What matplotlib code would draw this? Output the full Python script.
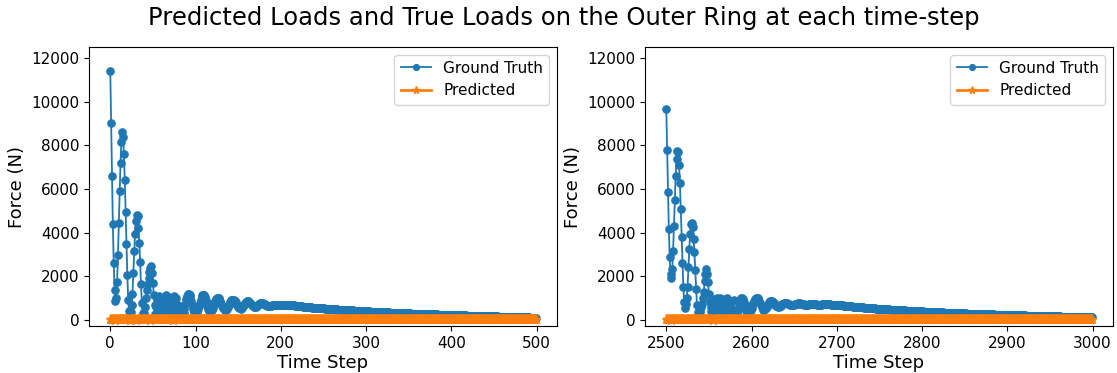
import numpy as np
import matplotlib
matplotlib.use("Agg")
import matplotlib.pyplot as plt

# ---------------- data (one value per time step) ----------------
START_LEFT = 0
START_RIGHT = 2500

TRUE_LEFT = [
    11420, 9040, 6600, 4400, 2620, 1390, 870, 1020, 1750, 2980,
    4440, 5900, 7200, 8150, 8600, 8400, 7600, 6400, 4960, 3480,
    2060, 920, 400, 150, 350, 700, 1200, 2150, 3170, 3950,
    4550, 4800, 4750, 4200, 3540, 2670, 1650, 780, 300, 120,
    300, 600, 1000, 1370, 1650, 1920, 2200, 2380, 2470, 2150,
    1700, 1150, 700, 250, 600, 1000, 700, 1100, 400, 900,
    150, 700, 300, 1000, 600, 1150, 800, 1100, 400, 900,
    100, 600, 200, 900, 500, 1100, 700, 1000, 300, 700,
    50, 400, 150, 250, 150, 200, 330, 520, 740, 940,
    1090, 1180, 1200, 1150, 1030, 860, 670, 490, 360, 300,
    290, 310, 380, 490, 620, 780, 930, 1060, 1140, 1160,
    1120, 1040, 920, 780, 640, 510, 420, 370, 385, 440,
    530, 640, 760, 870, 950, 1000, 1010, 990, 930, 850,
    750, 650, 560, 490, 450, 440, 455, 510, 580, 670,
    760, 840, 900, 930, 930, 910, 870, 810, 740, 670,
    610, 560, 530, 520, 530, 570, 630, 700, 770, 820,
    850, 860, 850, 820, 780, 730, 680, 640, 615, 602,
    600, 610, 635, 670, 710, 745, 770, 782, 780, 770,
    750, 725, 700, 675, 655, 640, 632, 630, 635, 645,
    660, 675, 690, 700, 705, 703, 698, 690, 680, 670,
    665, 664, 664, 665, 666, 667, 668, 669, 670, 670,
    671, 671, 670, 669, 667, 664, 660, 656, 652, 647,
    642, 637, 632, 627, 622, 617, 612, 607, 603, 599,
    595, 591, 587, 583, 579, 575, 571, 567, 563, 559,
    556, 553, 550, 547, 544, 541, 538, 535, 532, 529,
    526, 523, 520, 517, 514, 511, 508, 505, 502, 499,
    496, 493, 490, 487, 484, 481, 478, 475, 473, 471,
    468, 466, 463, 461, 458, 456, 453, 451, 448, 446,
    443, 441, 438, 436, 433, 431, 428, 426, 423, 421,
    418, 416, 413, 411, 408, 406, 403, 401, 398, 396,
    393, 391, 389, 387, 385, 383, 381, 379, 377, 375,
    373, 371, 369, 367, 365, 363, 361, 359, 357, 355,
    353, 351, 349, 347, 345, 343, 341, 339, 337, 335,
    333, 331, 329, 327, 325, 324, 322, 320, 318, 316,
    314, 313, 311, 309, 307, 306, 304, 302, 300, 299,
    297, 296, 294, 293, 291, 290, 288, 287, 285, 284,
    282, 281, 279, 278, 276, 275, 273, 272, 270, 269,
    267, 266, 264, 263, 261, 260, 258, 257, 255, 254,
    252, 251, 249, 248, 247, 245, 244, 243, 241, 240,
    239, 237, 236, 235, 233, 232, 231, 229, 228, 227,
    225, 224, 223, 221, 220, 219, 217, 216, 215, 213,
    212, 211, 209, 208, 207, 205, 204, 203, 201, 200,
    199, 197, 196, 195, 193, 192, 191, 189, 188, 187,
    186, 184, 183, 182, 181, 179, 178, 177, 176, 174,
    173, 172, 171, 169, 168, 167, 166, 164, 163, 162,
    161, 159, 158, 157, 156, 154, 153, 152, 151, 149,
    148, 147, 146, 144, 143, 142, 141, 139, 138, 137,
    136, 134, 133, 132, 131, 129, 128, 127, 126, 124,
    123, 122, 121, 119, 118, 117, 116, 114, 113, 112,
    111, 110, 109, 108, 107, 106, 105, 104, 103, 102,
]

TRUE_RIGHT = [
    9670, 7790, 5880, 4170, 2870, 2100, 1910, 2320, 3160, 4320,
    5500, 6600, 7380, 7760, 7700, 7100, 6270, 5080, 3820, 2600,
    1530, 810, 550, 750, 1000, 1530, 2440, 3250, 3940, 4400,
    4450, 4270, 3700, 3100, 2290, 1420, 660, 350, 270, 350,
    500, 600, 720, 1000, 1270, 1790, 2100, 2320, 2100, 1730,
    1180, 800, 610, 400, 270, 700, 300, 950, 500, 1000,
    200, 800, 400, 1000, 650, 900, 150, 600, 250, 950,
    550, 1000, 300, 800, 100, 500, 200, 850, 450, 900,
    150, 100, 150, 280, 450, 640, 810, 930, 990, 1000,
    950, 840, 690, 530, 400, 320, 290, 300, 360, 470,
    560, 660, 770, 870, 940, 985, 1000, 985, 940, 870,
    780, 690, 600, 520, 470, 460, 480, 530, 600, 680,
    760, 820, 860, 870, 860, 830, 785, 735, 690, 650,
    625, 610, 612, 625, 650, 680, 715, 745, 768, 780,
    780, 772, 758, 740, 720, 703, 690, 682, 680, 684,
    693, 706, 722, 738, 750, 758, 760, 756, 748, 737,
    724, 711, 700, 693, 690, 692, 698, 707, 718, 728,
    736, 740, 740, 736, 729, 720, 712, 705, 700, 698,
    698, 700, 705, 711, 718, 724, 728, 729, 728, 724,
    718, 712, 706, 701, 697, 695, 694, 693, 691, 688,
    685, 682, 679, 676, 672, 668, 664, 660, 656, 652,
    648, 644, 640, 636, 632, 628, 624, 620, 616, 612,
    608, 604, 600, 596, 593, 590, 586, 583, 579, 576,
    572, 569, 565, 562, 558, 555, 552, 548, 545, 542,
    539, 536, 533, 530, 527, 524, 521, 518, 515, 512,
    509, 506, 503, 500, 497, 494, 491, 488, 486, 483,
    481, 478, 476, 473, 471, 468, 466, 463, 461, 458,
    456, 453, 451, 448, 446, 443, 441, 439, 436, 434,
    432, 429, 427, 425, 422, 420, 418, 415, 413, 411,
    409, 406, 404, 402, 400, 397, 395, 393, 391, 389,
    387, 385, 383, 381, 379, 377, 375, 373, 371, 369,
    367, 365, 363, 361, 359, 357, 355, 353, 351, 349,
    347, 345, 343, 342, 340, 338, 336, 334, 333, 331,
    329, 327, 326, 324, 322, 320, 319, 317, 315, 314,
    312, 310, 309, 307, 305, 304, 302, 301, 299, 297,
    296, 294, 293, 291, 290, 288, 287, 285, 284, 282,
    281, 279, 278, 276, 275, 273, 272, 271, 269, 268,
    266, 265, 264, 262, 261, 260, 258, 257, 256, 254,
    253, 252, 250, 249, 248, 246, 245, 244, 243, 241,
    240, 239, 238, 236, 235, 234, 233, 231, 230, 229,
    228, 226, 225, 224, 223, 222, 220, 219, 218, 217,
    216, 214, 213, 212, 211, 210, 208, 207, 206, 205,
    204, 203, 201, 200, 199, 198, 197, 196, 194, 193,
    192, 191, 190, 189, 188, 186, 185, 184, 183, 182,
    181, 180, 179, 177, 176, 175, 174, 173, 172, 171,
    170, 169, 167, 166, 165, 164, 163, 162, 161, 160,
    159, 158, 156, 155, 154, 153, 152, 151, 150, 149,
    148, 147, 145, 144, 143, 142, 141, 140, 139, 138,
    137, 136, 134, 133, 132, 131, 130, 129, 128, 127,
    126, 125, 124, 123, 122, 121, 120, 119, 118, 117,
]

PRED_LEFT = [
    30, 25, 35, 20, 40, 28, 15, 32, 26, 38, 22, 30, 18, 35, 27, 40, 24, 31, 19, 36, 29, 23, 34, 17, 41,
    26, 33, 21, 37, 28, 16, 30, 25, 39, 22, 34, 27, 18, 32, 24, 36, 20, 31, 26, 40, 23, 29, 17, 35, 28,
    33, 21, 38, 25, 30, 19, 34, 27, 22, 37, 26, 32, 18, 39, 24, 29, 35, 20, 31, 27, 23, 36, 28, 17, 33,
    25, 40, 21, 30, 26, 34, 19, 37, 24, 28, 32, 22, 38, 27, 20, 35, 25, 31, 18, 36, 29, 23, 33, 26, 30,
    28, 24, 33, 21, 36, 27, 19, 31, 25, 35, 22, 29, 34, 20, 30, 26, 37, 23, 28, 32, 24, 35, 21, 30, 27,
    18, 33, 25, 38, 22, 29, 31, 20, 34, 26, 23, 36, 28, 19, 30, 27, 22, 32, 25, 35, 20, 29, 33, 24, 28,
    21, 31, 26, 34, 23, 30, 19, 27, 32, 25, 29, 22, 33, 26, 20, 31, 24, 28, 35, 21, 30, 27, 23, 32, 25,
    18, 34, 28, 22, 29, 26, 31, 20, 33, 24, 27, 30, 21, 28, 25, 32, 23, 29, 26, 19, 31, 24, 27, 22, 30,
    27, 23, 29, 25, 31, 22, 28, 26, 30, 24, 27, 21, 29, 25, 28, 23, 30, 26, 24, 27, 25, 28, 21, 26, 29,
    24, 30, 26, 32, 23, 28, 25, 31, 22, 29, 27, 33, 24, 26, 30, 21, 28, 25, 32, 23, 27, 29, 24, 31, 26,
    29, 22, 27, 31, 25, 28, 23, 30, 26, 21, 29, 32, 24, 27, 25, 30, 22, 28, 26, 31, 23, 27, 29, 24, 28,
    25, 31, 23, 28, 26, 30, 22, 27, 29, 24, 32, 25, 28, 21, 30, 26, 27, 23, 29, 25, 31, 24, 28, 22, 27,
    30, 24, 27, 22, 29, 26, 31, 23, 28, 25, 27, 30, 21, 29, 24, 28, 26, 32, 23, 27, 25, 30, 22, 28, 26,
    23, 29, 25, 30, 27, 21, 28, 24, 31, 26, 22, 29, 27, 25, 30, 23, 28, 26, 24, 31, 22, 27, 29, 25, 28,
    26, 30, 23, 27, 25, 29, 22, 28, 24, 31, 26, 27, 23, 30, 25, 28, 21, 29, 26, 24, 30, 27, 23, 28, 25,
    28, 24, 31, 26, 22, 29, 25, 27, 30, 23, 28, 26, 24, 29, 27, 22, 30, 25, 28, 24, 31, 26, 23, 27, 29,
    25, 27, 23, 30, 26, 28, 22, 29, 25, 31, 24, 27, 26, 23, 30, 28, 25, 29, 22, 27, 26, 30, 24, 28, 25,
    27, 30, 24, 26, 29, 23, 28, 25, 31, 22, 27, 26, 29, 24, 28, 23, 30, 26, 25, 27, 29, 22, 28, 26, 24,
    29, 25, 28, 23, 27, 30, 26, 24, 29, 25, 28, 22, 27, 31, 24, 26, 29, 25, 23, 28, 27, 30, 24, 26, 28,
    26, 28, 24, 29, 25, 27, 23, 30, 26, 28, 24, 27, 29, 25, 26, 28, 23, 27, 29, 24, 26, 28, 25, 27, 26,
]

PRED_RIGHT = [
    26, 33, 21, 38, 28, 17, 35, 24, 31, 20, 37, 27, 23, 34, 29, 18, 32, 25, 39, 22, 30, 26, 36, 19, 33,
    28, 24, 40, 21, 31, 27, 35, 18, 30, 25, 37, 23, 29, 34, 20, 28, 32, 22, 38, 26, 19, 33, 27, 24, 36,
    21, 30, 35, 25, 29, 17, 34, 28, 22, 31, 37, 24, 27, 20, 33, 26, 30, 39, 23, 28, 18, 35, 25, 32, 21,
    29, 36, 27, 24, 31, 20, 34, 26, 30, 22, 38, 28, 25, 33, 19, 29, 36, 23, 27, 31, 21, 35, 26, 30, 24,
    27, 31, 22, 35, 25, 29, 20, 33, 26, 30, 23, 36, 28, 21, 32, 25, 34, 19, 29, 27, 24, 33, 26, 30, 21,
    35, 28, 23, 31, 25, 29, 20, 34, 27, 22, 30, 26, 32, 24, 28, 31, 23, 27, 33, 21, 29, 25, 30, 22, 34,
    26, 28, 20, 31, 24, 27, 32, 23, 29, 25, 30, 22, 28, 26, 33, 21, 27, 31, 24, 29, 23, 32, 25, 28, 20,
    30, 26, 27, 22, 31, 24, 29, 25, 28, 23, 30, 26, 27, 21, 29, 25, 28, 24, 30, 22, 27, 26, 29, 23, 28,
    26, 29, 24, 27, 30, 23, 28, 25, 31, 22, 27, 26, 29, 24, 28, 25, 30, 23, 27, 26, 25, 27, 24, 28, 26,
    28, 23, 30, 25, 27, 29, 22, 28, 26, 31, 24, 27, 25, 30, 23, 28, 26, 29, 24, 27, 22, 30, 25, 28, 26,
    24, 29, 26, 31, 23, 27, 25, 30, 22, 28, 26, 29, 24, 27, 31, 23, 28, 25, 30, 26, 22, 29, 27, 24, 28,
    27, 25, 30, 23, 28, 26, 22, 29, 25, 31, 24, 27, 28, 23, 30, 26, 25, 29, 22, 27, 28, 24, 30, 26, 25,
    29, 24, 27, 30, 22, 28, 25, 31, 26, 23, 29, 27, 24, 28, 26, 30, 23, 27, 25, 29, 22, 28, 26, 24, 30,
    25, 28, 23, 29, 26, 27, 31, 24, 28, 22, 30, 25, 27, 29, 23, 26, 28, 24, 30, 27, 25, 29, 22, 28, 26,
    30, 23, 28, 25, 27, 29, 24, 26, 31, 22, 28, 27, 25, 30, 23, 29, 26, 24, 28, 27, 22, 30, 25, 29, 26,
    23, 28, 26, 30, 24, 27, 29, 22, 28, 25, 31, 26, 24, 27, 29, 23, 28, 26, 25, 30, 24, 27, 22, 29, 28,
    26, 30, 24, 28, 25, 27, 23, 29, 26, 28, 24, 31, 25, 27, 22, 30, 26, 28, 24, 29, 25, 27, 23, 28, 26,
    29, 25, 27, 24, 30, 22, 28, 26, 29, 23, 27, 25, 30, 24, 28, 26, 22, 29, 27, 25, 28, 24, 30, 26, 27,
    24, 28, 26, 29, 23, 27, 30, 25, 28, 22, 27, 29, 26, 24, 28, 25, 30, 23, 27, 26, 29, 24, 28, 25, 27,
    27, 25, 29, 24, 28, 26, 23, 30, 25, 27, 28, 24, 26, 29, 25, 27, 23, 28, 26, 25, 27, 24, 26, 25, 26,
]

TITLE = "Predicted Loads and True Loads on the Outer Ring at each time-step"
XLABEL = "Time Step"
YLABEL = "Force (N)"
LEFT_TICKS = [0, 100, 200, 300, 400, 500]
RIGHT_TICKS = [2500, 2600, 2700, 2800, 2900, 3000]
Y_TICKS = [0, 2000, 4000, 6000, 8000, 10000, 12000]

# ---------------- drawing ----------------
W, H = 1117, 373
fig = plt.figure(figsize=(W / 100, H / 100), dpi=100)

ax_left = fig.add_axes([89 / W, (H - 326) / H, 468 / W, 279 / H])
ax_right = fig.add_axes([645 / W, (H - 326) / H, 468 / W, 279 / H])

panels = [
    (ax_left, START_LEFT, TRUE_LEFT, PRED_LEFT, LEFT_TICKS),
    (ax_right, START_RIGHT, TRUE_RIGHT, PRED_RIGHT, RIGHT_TICKS),
]

for ax, start, truth, pred, xt in panels:
    steps_true = start + np.arange(len(truth))
    steps_pred = start + np.arange(len(pred))
    ax.plot(steps_true, truth, color="#1f77b4", marker="o", markersize=5.2,
            linewidth=1.3, label="Ground Truth")
    ax.plot(steps_pred, pred, color="#ff7f0e", marker="*", markersize=6.8,
            linewidth=2.0, label="Predicted")
    ax.set_xticks(xt)
    ax.set_yticks(Y_TICKS)
    ax.set_ylim(-280, 12510)
    ax.margins(x=0.05)
    ax.tick_params(labelsize=11)
    ax.set_xlabel(XLABEL, fontsize=13, labelpad=2)
    ax.set_ylabel(YLABEL, fontsize=13)
    ax.legend(loc="upper right", fontsize=11, handlelength=2.0, markerscale=0.8)

fig.suptitle(TITLE, fontsize=17.5, x=0.505, y=0.985)

fig.savefig("out.png", dpi=100)
